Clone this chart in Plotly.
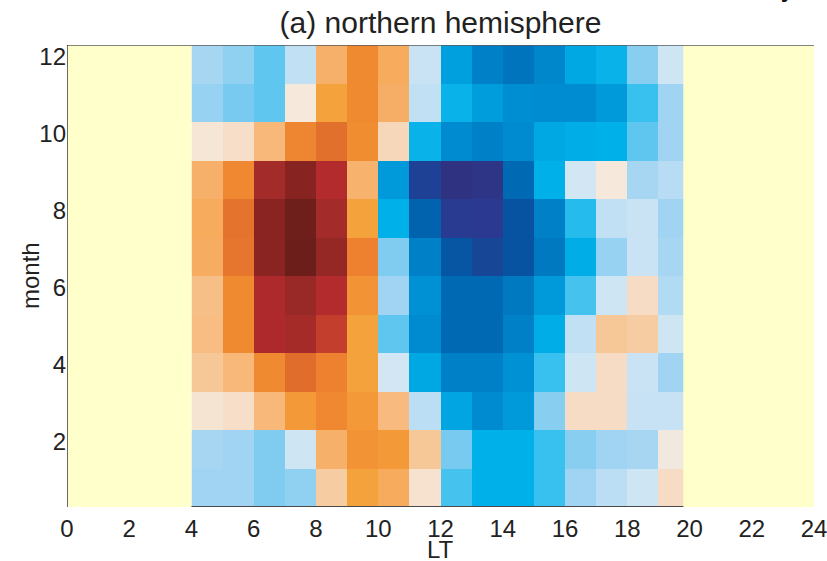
import plotly.graph_objects as go

# Local time (hour-bin centres) and months
hours = [4.5, 5.5, 6.5, 7.5, 8.5, 9.5, 10.5, 11.5,
         12.5, 13.5, 14.5, 15.5, 16.5, 17.5, 18.5, 19.5]
months = [1, 2, 3, 4, 5, 6, 7, 8, 9, 10, 11, 12]

# Normalised anomaly, one row per month (January first), one value per hour bin
jan = [-0.13, -0.13, -0.17, -0.15, 0.15, 0.37, 0.30, 0.06, -0.22, -0.29, -0.29, -0.23, -0.13, -0.08, -0.04, 0.09]
feb = [-0.12, -0.13, -0.17, -0.04, 0.27, 0.42, 0.40, 0.17, -0.18, -0.29, -0.29, -0.23, -0.16, -0.13, -0.12, 0.02]
mar = [0.05, 0.08, 0.23, 0.40, 0.46, 0.40, 0.22, -0.08, -0.33, -0.45, -0.38, -0.16, 0.09, 0.09, -0.06, -0.06]
apr = [0.17, 0.23, 0.45, 0.58, 0.50, 0.37, -0.03, -0.32, -0.50, -0.50, -0.42, -0.23, -0.04, 0.09, -0.05, -0.13]
may = [0.21, 0.45, 0.80, 0.83, 0.72, 0.37, -0.20, -0.45, -0.60, -0.60, -0.50, -0.30, -0.07, 0.17, 0.15, -0.04]
jun = [0.20, 0.45, 0.80, 0.87, 0.78, 0.42, -0.13, -0.42, -0.60, -0.60, -0.53, -0.38, -0.22, -0.04, 0.09, -0.10]
jul = [0.29, 0.55, 0.91, 1.00, 0.88, 0.50, -0.17, -0.50, -0.70, -0.80, -0.72, -0.53, -0.30, -0.14, -0.05, -0.12]
aug = [0.30, 0.56, 0.91, 0.99, 0.84, 0.37, -0.29, -0.63, -0.87, -0.88, -0.72, -0.50, -0.25, -0.07, -0.05, -0.13]
sep = [0.27, 0.46, 0.84, 0.92, 0.78, 0.26, -0.38, -0.83, -0.97, -0.93, -0.60, -0.29, -0.03, 0.03, -0.12, -0.09]
oct_ = [0.04, 0.08, 0.23, 0.48, 0.57, 0.44, 0.11, -0.28, -0.45, -0.50, -0.45, -0.32, -0.30, -0.29, -0.20, -0.13]
nov = [-0.14, -0.18, -0.20, 0.03, 0.37, 0.45, 0.28, -0.07, -0.28, -0.36, -0.43, -0.44, -0.44, -0.38, -0.23, -0.13]
dec = [-0.12, -0.15, -0.20, -0.07, 0.27, 0.45, 0.30, -0.05, -0.35, -0.50, -0.55, -0.47, -0.32, -0.28, -0.16, -0.04]
values = [jan, feb, mar, apr, may, jun, jul, aug, sep, oct_, nov, dec]

x_ticks = list(range(0, 25, 2))
y_ticks = list(range(2, 13, 2))

# Diverging blue-white-red palette, anchors given on the [-1, 1] data scale
anchors = [
    (-1.00, "#31307A"), (-0.88, "#2B3990"), (-0.75, "#0A4E9C"), (-0.62, "#0064B0"),
    (-0.50, "#0080C6"), (-0.42, "#0090D4"), (-0.35, "#009FDE"), (-0.29, "#00B0E8"),
    (-0.23, "#38C0EE"), (-0.18, "#78CAF0"), (-0.13, "#A0D4F2"), (-0.07, "#C2E0F4"),
    (-0.03, "#D2E6F4"), (0.00, "#E6E8EA"), (0.03, "#F6E8DA"), (0.09, "#F6DCC4"),
    (0.16, "#F6CA9C"), (0.22, "#F8BA7E"), (0.28, "#F6AE66"), (0.37, "#F4A23C"),
    (0.45, "#F08A30"), (0.52, "#EC7E30"), (0.58, "#E06D2C"), (0.72, "#C43E2E"),
    (0.79, "#B0282C"), (0.85, "#A02C28"), (0.91, "#8A2422"), (1.00, "#6C1E1A"),
]
colorscale = [[(v + 1) / 2, c] for v, c in anchors]

FONT = "Liberation Sans, Arial, Helvetica, sans-serif"
NODATA = "#FFFFCC"
W, H = 827, 561
L, R, T, B = 67, 13, 45, 54

fig = go.Figure(
    go.Heatmap(
        x=hours, y=months, z=values,
        colorscale=colorscale, zmin=-1, zmax=1,
        showscale=False, zsmooth=False,
    )
)

# No-data regions before sunrise and after sunset, then the frame lines
shapes = [
    dict(type="rect", xref="x", yref="y", x0=0, x1=4, y0=0.5, y1=12.5,
         fillcolor=NODATA, line_width=0, layer="above"),
    dict(type="rect", xref="x", yref="y", x0=19.8, x1=24.06, y0=0.5, y1=12.5,
         fillcolor=NODATA, line_width=0, layer="above"),
    dict(type="line", xref="x", yref="y", x0=0, x1=24.06, y0=12.5, y1=12.5,
         line=dict(color="#5a5a5a", width=1.5), layer="above"),
    dict(type="line", xref="x", yref="y", x0=0, x1=0, y0=0.5, y1=12.5,
         line=dict(color="#3a3a3a", width=1.5), layer="above"),
    dict(type="line", xref="x", yref="y", x0=4, x1=19.8, y0=0.5, y1=0.5,
         line=dict(color="#4a4a4a", width=2), layer="above"),
]

plot_w = W - L - R
plot_h = H - T - B

fig.update_layout(
    width=W, height=H,
    margin=dict(l=L, r=R, t=T, b=B, autoexpand=False),
    paper_bgcolor="white", plot_bgcolor="white",
    font=dict(family=FONT, size=24, color="#222222"),
    title=dict(text="(a) northern hemisphere", x=0.5, xref="paper",
               y=1 - 22 / H, yref="container", yanchor="middle",
               font=dict(family=FONT, size=30, color="#222222")),
    shapes=shapes,
    annotations=[
        # axis labels placed by hand next to the tick labels
        dict(text="month", xref="paper", yref="paper",
             x=(30 - L) / plot_w, y=0.5, xanchor="center", yanchor="middle",
             textangle=-90, showarrow=False,
             font=dict(family=FONT, size=24, color="#222222")),
        dict(text="LT", xref="paper", yref="paper",
             x=0.5, y=-(549 - (H - B)) / plot_h, xanchor="center", yanchor="middle",
             showarrow=False, font=dict(family=FONT, size=24, color="#222222")),
        dict(text="y", xref="paper", yref="paper", x=(788 - L) / plot_w,
             y=1 + (T - 4) / plot_h, xanchor="center", yanchor="bottom",
             showarrow=False, font=dict(family=FONT, size=30, color="#111111")),
    ],
)

fig.update_xaxes(
    range=[0, 24], tickvals=x_ticks, ticks="", showgrid=False, zeroline=False,
    showline=False, automargin=False, ticklabeloverflow="allow",
    ticklabelstandoff=5, tickfont=dict(size=24),
)
fig.update_yaxes(
    range=[0.5, 12.5], tickvals=y_ticks, ticks="", showgrid=False, zeroline=False,
    showline=False, automargin=False, ticklabelshift=-8,
    tickfont=dict(size=24),
)

fig.write_html("out.html")
